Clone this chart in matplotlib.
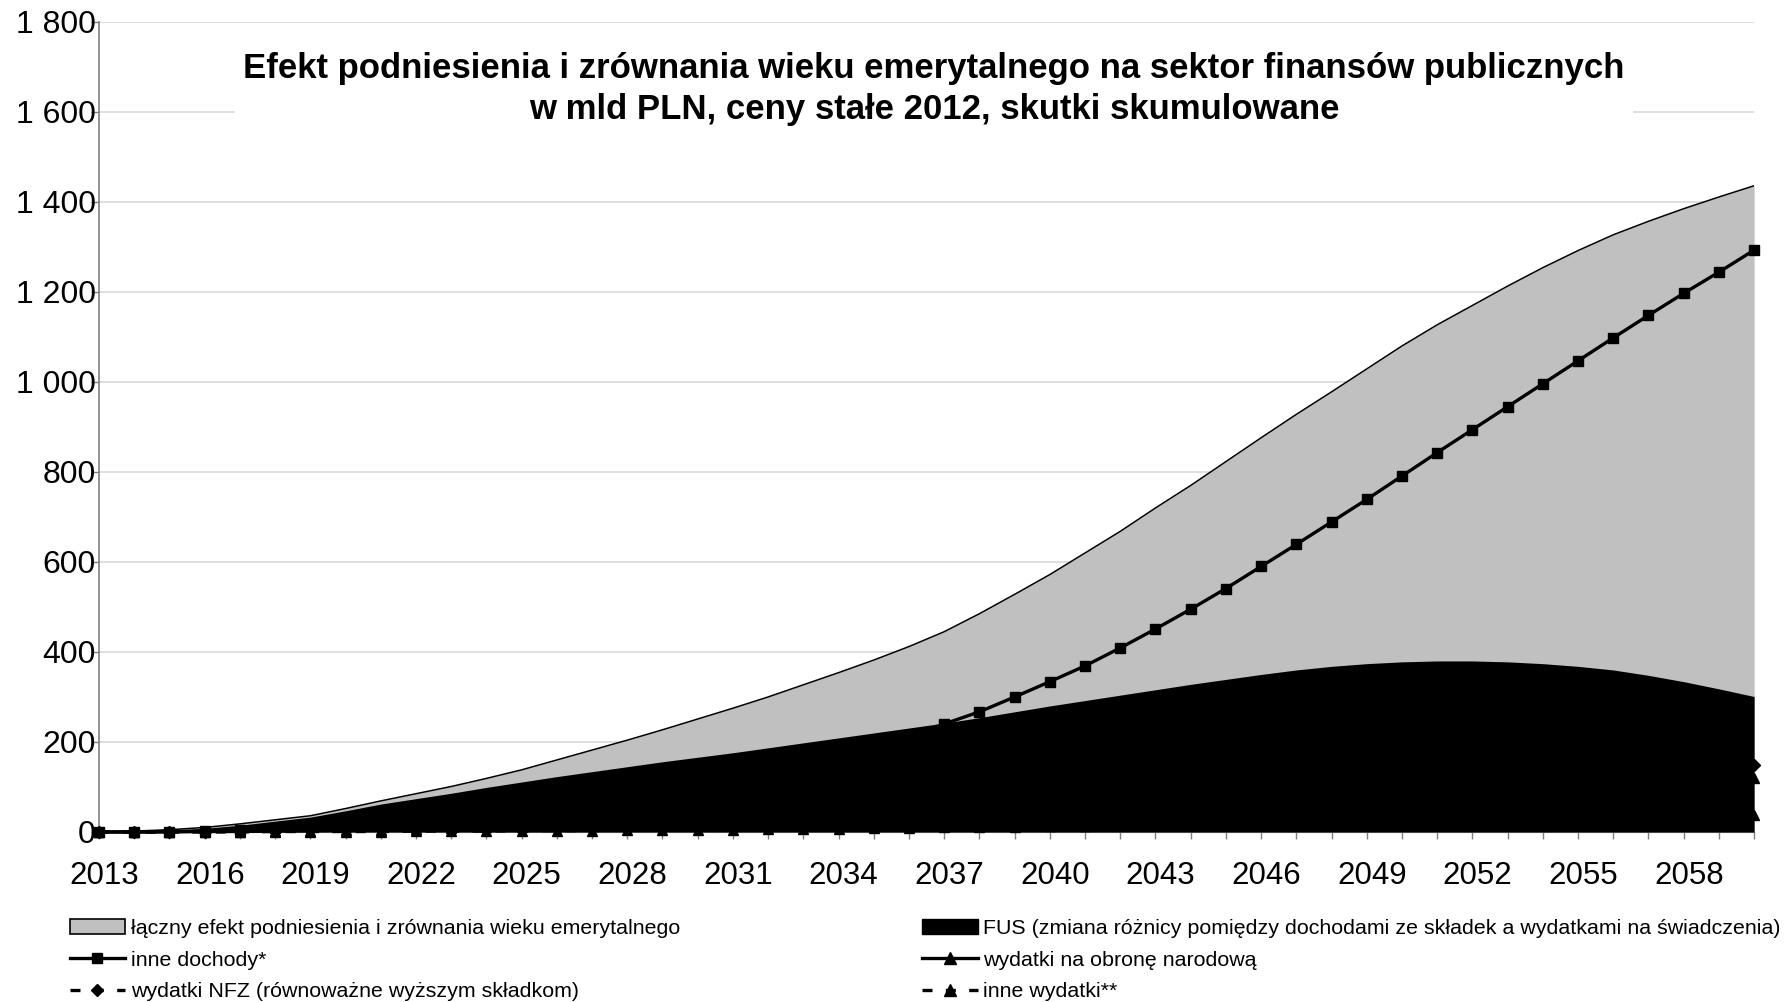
import matplotlib
matplotlib.use("Agg")
from matplotlib import pyplot as plt
from matplotlib.patches import Patch
from matplotlib.lines import Line2D
from matplotlib.transforms import ScaledTranslation

plt.rcParams['font.family'] = ['Liberation Sans', 'DejaVu Sans']

years = list(range(2013, 2061))

# łączny efekt (szary obszar)
laczny = [0, 2, 5, 10, 18, 27, 36, 52, 69, 85,
          101, 119, 138, 160, 182, 204, 227, 251, 275, 300,
          327, 354, 382, 412, 445, 485, 528, 572, 620, 668,
          720, 770, 823, 876, 928, 978, 1029, 1080, 1127, 1170,
          1213, 1254, 1292, 1327, 1357, 1385, 1411, 1436]
# FUS (czarny obszar)
fus = [0, 1, 3, 8, 15, 24, 33, 47, 62, 74,
       86, 99, 111, 123, 134, 145, 156, 166, 176, 187,
       198, 209, 220, 231, 242, 254, 267, 280, 292, 304,
       316, 328, 339, 350, 360, 368, 374, 378, 380, 380,
       378, 374, 368, 360, 348, 334, 318, 301]
inne_dochody = [0, 0, 1, 2, 5, 9, 14, 19, 25, 31,
                38, 46, 55, 64, 74, 85, 96, 108, 121, 135,
                150, 166, 183, 212, 240, 267, 300, 334, 369, 409,
                451, 495, 541, 590, 639, 689, 739, 791, 843, 894,
                945, 996, 1047, 1098, 1148, 1197, 1244, 1293]
obrona = [0, 0, 0, 1, 1, 2, 3, 4, 5, 6,
          8, 10, 12, 14, 16, 19, 22, 25, 28, 32,
          36, 40, 44, 48, 52, 56, 60, 64, 68, 72,
          76, 80, 84, 88, 92, 95, 98, 101, 104, 107,
          109, 111, 113, 115, 116, 118, 119, 120]
nfz = [0, 0, 1, 1, 2, 3, 4, 5, 6, 8,
       10, 12, 14, 17, 20, 23, 26, 30, 34, 38,
       42, 46, 50, 54, 58, 63, 68, 73, 78, 83,
       88, 93, 98, 103, 108, 113, 118, 122, 126, 130,
       133, 136, 139, 142, 144, 146, 148, 149]
inne_wydatki = [0, 0, 0, 0, 0, 1, 1, 1, 1, 2,
                2, 2, 3, 3, 3, 4, 4, 5, 5, 6,
                6, 7, 8, 9, 10, 11, 12, 13, 14, 15,
                16, 17, 18, 19, 21, 22, 24, 25, 27, 28,
                30, 31, 32, 34, 35, 36, 37, 38]

labels = ['łączny efekt podniesienia i zrównania wieku emerytalnego',
          'inne dochody*',
          'wydatki NFZ (równoważne wyższym składkom)',
          'FUS (zmiana różnicy pomiędzy dochodami ze składek a wydatkami na świadczenia)',
          'wydatki na obronę narodową',
          'inne wydatki**']
title = ('Efekt podniesienia i zrównania wieku emerytalnego na sektor finansów publicznych\n'
         'w mld PLN, ceny stałe 2012, skutki skumulowane')

fig = plt.figure(figsize=(17.85, 10.02), dpi=100)
ax = fig.add_axes([0.0555, 0.1697, 0.9272, 0.8084])

ax.fill_between(years, laczny, color='#c0c0c0', lw=0, zorder=2)
ax.plot(years, laczny, color='black', lw=1.1, zorder=2.1)

dash = (3, 4)
ax.plot(years, inne_wydatki, color='black', lw=2.4, dashes=dash, marker='^', ms=7, zorder=3, clip_on=False)
ax.plot(years, nfz, color='black', lw=2.4, dashes=dash, marker='D', ms=6.5, zorder=3, clip_on=False)
ax.plot(years, obrona, color='black', lw=2.4, marker='^', ms=7, zorder=3, clip_on=False)
ax.plot(years, inne_dochody, color='black', lw=2.4, marker='s', ms=7.5, zorder=3.2, clip_on=False)

ax.fill_between(years, fus, color='black', lw=0, zorder=4)

ax.set_xlim(2013, 2060)
ax.set_ylim(0, 1800)
ax.set_xticks(years)
ax.set_xticklabels([str(y) if (y - 2013) % 3 == 0 else '' for y in years])
ax.set_yticks(range(0, 1801, 200))
ax.set_yticklabels([f'{v:,}'.replace(',', ' ') for v in range(0, 1801, 200)])
ax.tick_params(axis='x', direction='out', length=5, width=1, color='#808080', pad=16, labelsize=22.5)
ax.tick_params(axis='y', direction='out', length=6, width=1, color='#808080', pad=-3.5, labelsize=23)
shift = ScaledTranslation(5 / 100, 0, fig.dpi_scale_trans)
for lab in ax.get_xticklabels():
    lab.set_transform(lab.get_transform() + shift)
ax.yaxis.grid(True, color='#d9d9d9', lw=1.2)
ax.set_axisbelow(True)
for s in ['top', 'right']:
    ax.spines[s].set_visible(False)
ax.spines['left'].set_color('#808080')
ax.spines['left'].set_linewidth(1.2)
ax.spines['bottom'].set_color('#808080')

ax.text(0.5045, 0.917, title, transform=ax.transAxes, ha='center', va='center',
        fontsize=25, fontweight='bold', linespacing=1.3, zorder=10,
        bbox=dict(boxstyle='square,pad=0.25', facecolor='white', edgecolor='none'))

h_laczny = Patch(facecolor='#c0c0c0', edgecolor='black', lw=1.2)
h_fus = Patch(facecolor='black', edgecolor='black')
h_dochody = Line2D([], [], color='black', lw=2.4, marker='s', ms=7.5)
h_obrona = Line2D([], [], color='black', lw=2.4, marker='^', ms=8)
h_nfz = Line2D([], [], color='black', lw=2.4, dashes=dash, marker='D', ms=6.5)
h_wydatki = Line2D([], [], color='black', lw=2.4, dashes=dash, marker='^', ms=8)

leg_kw = dict(loc='upper left', frameon=False, fontsize=15.4, handlelength=2.6,
              handletextpad=0.25, labelspacing=0.58, borderpad=0, borderaxespad=0)
fig.legend([h_laczny, h_dochody, h_nfz], labels[:3], bbox_to_anchor=(0.039, 0.0825), **leg_kw)
fig.legend([h_fus, h_obrona, h_wydatki], labels[3:], bbox_to_anchor=(0.5165, 0.0825), **leg_kw)

fig.savefig('out.png', dpi=100)
